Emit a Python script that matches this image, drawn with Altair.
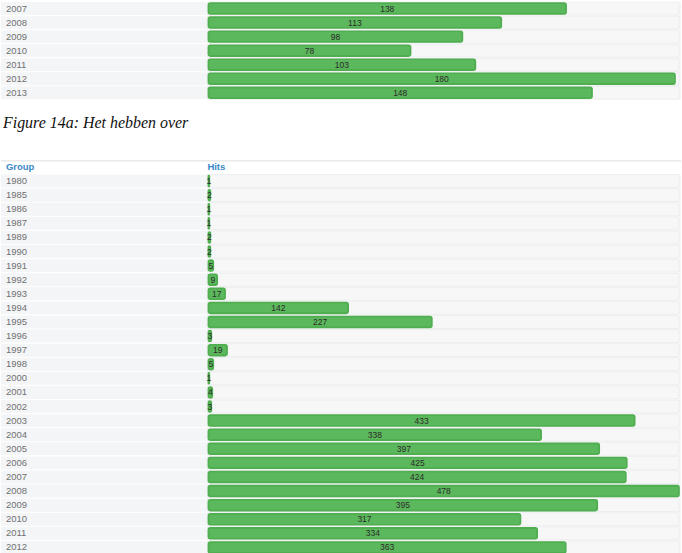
import altair as alt
import pandas as pd

# ---- data ----
top_years = ["2007", "2008", "2009", "2010", "2011", "2012", "2013"]
top_hits = [138, 113, 98, 78, 103, 180, 148]

bot_years = ["1980", "1985", "1986", "1987", "1989", "1990", "1991", "1992",
             "1993", "1994", "1995", "1996", "1997", "1998", "2000", "2001",
             "2002", "2003", "2004", "2005", "2006", "2007", "2008", "2009",
             "2010", "2011", "2012"]
bot_hits = [1, 2, 1, 1, 2, 2, 5, 9, 17, 142, 227, 3, 19, 5, 1, 4, 3,
            433, 338, 397, 425, 424, 478, 395, 317, 334, 363]

caption_text = ["Figure 14a: Het hebben over"]
header_labels = ["Group", "Hits"]

W = 682
GREEN = "#5cb85c"
ROWBG = "#f4f5f7"


def table(years, hits, xmax, xend, height):
    df = pd.DataFrame({"year": years, "hits": hits})
    yenc = alt.Y("year:N", sort=years, axis=None,
                 scale=alt.Scale(paddingInner=0.08, paddingOuter=0.02))
    xscale = alt.Scale(domain=[0, xmax], range=[208, xend])
    base = alt.Chart(df)
    bg = base.mark_bar(color=ROWBG).encode(
        y=yenc, x=alt.value(0), x2=alt.value(W))
    track = base.mark_bar(color="#f7f7f8", stroke="#e6e7e9", strokeWidth=0.6).encode(
        y=yenc, x=alt.value(207), x2=alt.value(W - 2))
    bars = base.mark_bar(color=GREEN, stroke="#4fae4f", strokeWidth=1.6,
                         cornerRadius=2, height={"band": 0.84}).encode(
        y=yenc, x=alt.X("hits:Q", axis=None, scale=xscale))
    labels = base.mark_text(align="left", baseline="middle", fontSize=9.5,
                            font="Liberation Sans", color="#707070").encode(
        y=yenc, x=alt.value(5), text="year:N")
    vals = base.transform_calculate(mid="datum.hits / 2").mark_text(
        align="center", baseline="middle", fontSize=8.5,
        font="Liberation Sans", color="#2b2b2b").encode(
        y=yenc, x=alt.X("mid:Q", axis=None, scale=xscale), text="hits:Q")
    return alt.layer(bg, track, bars, labels, vals).properties(width=W, height=height)


top = table(top_years, top_hits, 180, 676, 98)

cap_df = pd.DataFrame({"t": caption_text})
caption = alt.Chart(cap_df).mark_text(
    align="left", baseline="middle", fontSize=16, fontStyle="italic",
    font="Liberation Serif", color="#111").encode(
    x=alt.value(2), y=alt.value(23), text="t:N").properties(width=W, height=60)

hdr_df = pd.DataFrame({"h": header_labels, "xpos": [5, 207]})
header_bg = alt.Chart(hdr_df).mark_rule(color="#e8e9eb").encode(
    x=alt.value(0), x2=alt.value(W), y=alt.value(0.5))
header_txt = alt.Chart(hdr_df).mark_text(
    align="left", baseline="middle", fontSize=9.5, fontWeight=600,
    font="Liberation Sans", color="#3a88c8").encode(
    x=alt.X("xpos:Q", scale=None, axis=None), y=alt.value(7), text="h:N")
header = alt.layer(header_bg, header_txt).properties(width=W, height=13)

bottom = table(bot_years, bot_hits, 478, 680, 381)

chart = alt.vconcat(top, caption, header, bottom, spacing=0).properties(
    padding={"left": 0, "top": 0, "right": 0, "bottom": 0},
    background="white"
).configure_view(stroke=None).configure_concat(spacing=0)

chart.save("out.html", embed_options={"renderer": "svg", "actions": False})
